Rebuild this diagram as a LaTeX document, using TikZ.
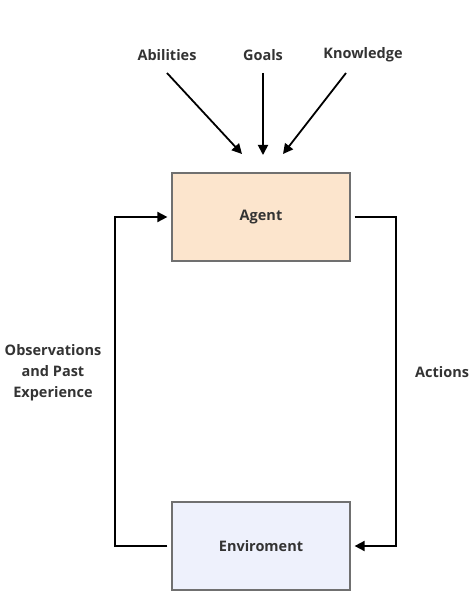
\documentclass[tikz,border=0pt]{standalone}
\usepackage{fontspec}
\setmainfont{Open Sans}
\usetikzlibrary{arrows.meta}
\definecolor{agentfill}{HTML}{FCE5CD}
\definecolor{envfill}{HTML}{EEF1FC}
\definecolor{boxline}{HTML}{707070}
\definecolor{txt}{HTML}{333333}
\tikzset{
  box/.style={draw=boxline, line width=1.2pt, minimum width=178pt, minimum height=88pt, inner sep=0pt, font=\bfseries\fontsize{14.5}{17}\selectfont, text=txt},
  lbl/.style={font=\bfseries\fontsize{14.5}{21}\selectfont, text=txt, align=center, inner sep=0pt},
  conn/.style={line width=1.8pt, black, -{Triangle[length=10pt,width=10pt]}},
  plain/.style={line width=1.8pt, black}
}
\begin{document}
\begin{tikzpicture}[x=1pt,y=-1pt]
\useasboundingbox (0,0) rectangle (472,604);
\node[box, fill=agentfill] (agent) at (261,217) {Agent};
\node[box, fill=envfill] (env) at (261,546) {Enviroment};
\node[lbl] (abil) at (167,55) {Abilities};
\node[lbl] (goals) at (263,55) {Goals};
\node[lbl] (know) at (363,55) {Knowledge};
\node[lbl] (obs) at (53,373) {Observations\\and Past\\Experience};
\node[lbl, anchor=west] (act) at (415,372) {Actions};
\coordinate (a1) at (242,154);
\coordinate (g1) at (263,155);
\coordinate (k1) at (283,154);
\draw[conn] (167,73) -- (a1);
\draw[conn] (263,73) -- (g1);
\draw[conn] (346,73) -- (k1);
\draw[conn] ([xshift=4pt]agent.east) -- (396,217) -- (396,546) -- ([xshift=4pt]env.east);
\draw[conn] ([xshift=-4pt]env.west) -- (115,546) -- (115,217) -- ([xshift=-4pt]agent.west);
\end{tikzpicture}
\end{document}
